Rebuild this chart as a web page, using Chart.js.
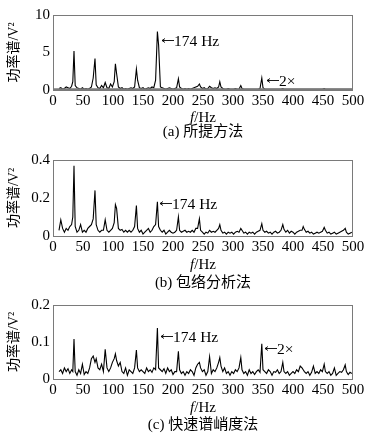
<!DOCTYPE html>
<html>
<head>
<meta charset="utf-8">
<script src="https://cdn.jsdelivr.net/npm/chart.js@4.4.0/dist/chart.umd.min.js"></script>
<style>
body { margin: 0; background: #fff; width: 369px; height: 439px; position: relative; overflow: hidden; }
canvas { position: absolute; left: 0; }
</style>
</head>
<body>
<canvas id="chartA" width="369" height="140" style="top:0px"></canvas>
<canvas id="chartB" width="369" height="150" style="top:140px"></canvas>
<canvas id="chartC" width="369" height="149" style="top:290px"></canvas>
<script>
// frequency axis (Hz), shared by all three spectra
var freqs = [
  10,13,16,19,22,25,28,31,33,35,
  37,40,43,46,49,52,55,58,61,64,
  67,70,72,75,78,81,84,87,90,93,
  96,99,102,104,106,109,112,115,118,121,
  124,127,130,133,136,139,141,144,147,150,
  153,156,159,162,165,168,171,174,176,179,
  182,185,188,191,194,197,200,203,206,209,
  211,214,217,220,223,226,229,232,235,238,
  241,244,246,249,252,255,258,261,264,267,
  270,273,276,278,280,283,286,289,292,295,
  298,301,304,307,310,313,315,318,321,324,
  327,330,333,336,339,342,345,348,350,353,
  356,359,362,365,368,371,374,377,380,383,
  385,388,391,394,397,400,403,406,409,412,
  415,417,419,422,425,428,431,434,437,440,
  443,446,449,452,454,457,460,463,466,469,
  472,475,478,481,484,487,489,492,495,498
];

// (a) proposed method
var powerA = [
  0.2,0.3,0.1,0.2,0.4,0.3,0.2,0.5,1.1,5.2,
  0.6,0.3,0.2,0.1,0.3,0.1,0.2,0.1,0.2,0.4,
  1.6,4.2,0.7,0.3,0.2,0.6,0.3,1.0,0.3,0.2,
  0.8,0.4,1.1,3.5,2.2,0.4,0.2,0.3,0.1,0.2,
  0.1,0.2,0.3,0.2,0.4,2.8,1.3,0.3,0.2,0.3,
  0.1,0.2,0.3,0.2,0.4,0.3,1.3,7.8,6.0,0.4,
  0.3,0.2,0.1,0.2,0.3,0.2,0.1,0.2,0.3,1.5,
  0.4,0.2,0.1,0.2,0.1,0.2,0.1,0.2,0.3,0.4,
  0.5,0.8,0.4,0.2,0.3,0.1,0.2,0.5,0.3,0.2,
  0.3,0.2,0.4,1.1,0.4,0.2,0.1,0.1,0.2,0.1,
  0.1,0.1,0.2,0.1,0.1,0.6,0.2,0.1,0.1,0.1,
  0.1,0.1,0.1,0.1,0.1,0.1,0.2,1.6,0.3,0.1,
  0.1,0.1,0.1,0.1,0.1,0.1,0.1,0.1,0.1,0.2,
  0.1,0.1,0.1,0.1,0.1,0.1,0.1,0.1,0.1,0.1,
  0.1,0.1,0.1,0.1,0.1,0.1,0.1,0.1,0.1,0.1,
  0.1,0.1,0.1,0.2,0.1,0.1,0.1,0.1,0.1,0.1,
  0.1,0.1,0.1,0.1,0.1,0.1,0.1,0.1,0.1,0.1
];

// (b) envelope analysis
var powerB = [
  0.03,0.085,0.04,0.02,0.04,0.03,0.05,0.06,0.1,0.37,
  0.05,0.02,0.03,0.06,0.02,0.03,0.02,0.04,0.05,0.06,
  0.09,0.24,0.06,0.03,0.02,0.03,0.03,0.085,0.03,0.02,
  0.03,0.04,0.07,0.165,0.145,0.04,0.03,0.035,0.02,0.03,
  0.02,0.03,0.02,0.03,0.05,0.16,0.04,0.02,0.03,0.01,
  0.02,0.03,0.04,0.02,0.03,0.05,0.06,0.18,0.05,0.03,
  0.02,0.03,0.01,0.02,0.03,0.02,0.015,0.02,0.03,0.1,
  0.03,0.02,0.025,0.03,0.02,0.025,0.02,0.03,0.02,0.04,
  0.04,0.09,0.03,0.02,0.01,0.02,0.015,0.03,0.02,0.025,
  0.02,0.03,0.04,0.06,0.03,0.015,0.02,0.01,0.02,0.015,
  0.02,0.01,0.02,0.025,0.02,0.04,0.03,0.015,0.02,0.01,
  0.02,0.015,0.02,0.01,0.02,0.025,0.03,0.065,0.03,0.02,
  0.025,0.015,0.02,0.01,0.02,0.025,0.015,0.02,0.03,0.06,
  0.035,0.02,0.03,0.015,0.025,0.02,0.01,0.02,0.025,0.03,
  0.03,0.05,0.035,0.02,0.025,0.015,0.02,0.01,0.015,0.02,
  0.015,0.02,0.025,0.045,0.03,0.015,0.02,0.01,0.015,0.02,
  0.01,0.015,0.02,0.025,0.03,0.04,0.02,0.01,0.015,0.02
];

// (c) fast kurtogram
var powerC = [
  0.02,0.025,0.015,0.03,0.02,0.028,0.015,0.025,0.02,0.108,
  0.02,0.01,0.025,0.015,0.04,0.012,0.02,0.015,0.03,0.055,
  0.062,0.045,0.055,0.03,0.025,0.04,0.02,0.08,0.03,0.02,
  0.03,0.045,0.055,0.068,0.05,0.035,0.045,0.02,0.015,0.03,
  0.01,0.025,0.02,0.015,0.03,0.078,0.03,0.02,0.025,0.02,
  0.015,0.03,0.02,0.025,0.018,0.03,0.025,0.138,0.03,0.025,
  0.02,0.028,0.015,0.03,0.02,0.025,0.012,0.02,0.02,0.075,
  0.025,0.015,0.02,0.01,0.02,0.015,0.025,0.02,0.01,0.03,
  0.04,0.045,0.03,0.02,0.025,0.01,0.02,0.06,0.015,0.025,
  0.02,0.03,0.045,0.058,0.035,0.02,0.03,0.015,0.02,0.01,
  0.02,0.015,0.025,0.02,0.03,0.058,0.025,0.015,0.02,0.01,
  0.025,0.015,0.02,0.012,0.02,0.025,0.018,0.095,0.025,0.02,
  0.015,0.025,0.02,0.01,0.02,0.018,0.025,0.015,0.02,0.045,
  0.02,0.015,0.02,0.01,0.015,0.02,0.015,0.025,0.02,0.035,
  0.03,0.025,0.02,0.015,0.02,0.01,0.018,0.035,0.015,0.02,
  0.015,0.025,0.02,0.04,0.02,0.015,0.02,0.01,0.015,0.03,
  0.01,0.015,0.02,0.018,0.025,0.038,0.02,0.012,0.018,0.015
];

var xTicks = [0, 50, 100, 150, 200, 250, 300, 350, 400, 450, 500];
var captions = ['(a) 所提方法', '(b) 包络分析法', '(c) 快速谱峭度法'];
var yMax = [10, 0.4, 0.2];
var yStep = [5, 0.2, 0.1];

var serif = '"Liberation Serif", "Noto Sans CJK SC"';

// frame, axis titles, caption and arrow notes
function panelPlugin(cfg) {
  return {
    id: 'panel',
    afterDatasetsDraw: function(chart) {
      var ctx = chart.ctx, a = chart.chartArea;
      var xs = chart.scales.x, ys = chart.scales.y;
      ctx.save();
      ctx.strokeStyle = '#7a7a7a';
      ctx.lineWidth = 1;
      ctx.strokeRect(a.left + 0.5, a.top + 0.5, a.right - a.left - 1, a.bottom - a.top);
      if (cfg.thickBase) {
        ctx.lineWidth = 2.5;
        ctx.beginPath();
        ctx.moveTo(a.left, a.bottom - 0.5);
        ctx.lineTo(a.right, a.bottom - 0.5);
        ctx.stroke();
      }
      ctx.fillStyle = '#000';
      ctx.strokeStyle = '#000';
      ctx.textBaseline = 'middle';
      ctx.font = '15.5px ' + serif;
      ctx.textAlign = 'left';
      cfg.notes.forEach(function(n) {
        var px = Math.round(xs.getPixelForValue(n.f)), py = Math.round(ys.getPixelForValue(n.v)) + 0.5;
        // arrow pointing left
        ctx.lineWidth = 0.9;
        ctx.beginPath();
        ctx.moveTo(px, py);
        ctx.lineTo(px + 12, py);
        ctx.moveTo(px + 3, py - 2);
        ctx.lineTo(px, py);
        ctx.lineTo(px + 3, py + 2);
        ctx.stroke();
        ctx.fillText(n.text, px + 12, py + 1);
      });
      // y title
      ctx.save();
      ctx.translate(14, (a.top + a.bottom) / 2);
      ctx.rotate(-Math.PI / 2);
      ctx.textAlign = 'center';
      ctx.font = '14px ' + serif;
      ctx.fillText('功率谱/V²', 0, 0);
      ctx.restore();
      // x title with italic f
      var cx = (a.left + a.right) / 2, ty = a.bottom + cfg.xTitleOff;
      ctx.font = 'italic 15px ' + serif;
      var w1 = ctx.measureText('f').width;
      ctx.font = '15px ' + serif;
      var w2 = ctx.measureText('/Hz').width;
      var x0 = cx - (w1 + w2) / 2;
      ctx.font = 'italic 15px ' + serif;
      ctx.fillText('f', x0, ty);
      ctx.font = '15px ' + serif;
      ctx.fillText('/Hz', x0 + w1, ty);
      // caption
      ctx.textAlign = 'center';
      ctx.font = '15px ' + serif;
      ctx.fillText(cfg.caption, cx, a.bottom + cfg.capOff);
      ctx.restore();
    }
  };
}

function makeChart(id, vals, idx, cfg) {
  var pts = freqs.map(function(f, i) { return { x: f, y: vals[i] }; });
  return new Chart(document.getElementById(id), {
    type: 'line',
    data: {
      datasets: [{
        data: pts,
        borderColor: '#000',
        borderWidth: 1.1,
        pointRadius: 0,
        tension: 0,
        fill: false
      }]
    },
    options: {
      responsive: false,
      animation: false,
      layout: { padding: { left: 0, right: 16, top: cfg.top, bottom: cfg.bottom } },
      plugins: { legend: { display: false }, tooltip: { enabled: false } },
      scales: {
        x: {
          type: 'linear', min: 0, max: 500,
          afterBuildTicks: function(s) { s.ticks = xTicks.map(function(v) { return { value: v }; }); },
          afterFit: function(s) { s.height = 20; },
          grid: { display: false, drawTicks: false },
          border: { display: false },
          ticks: { color: '#000', padding: 2, maxRotation: 0, autoSkip: false, font: { family: serif, size: 15 } }
        },
        y: {
          min: 0, max: yMax[idx],
          afterFit: function(s) { s.width = 53; },
          grid: { display: false, drawTicks: false },
          border: { display: false },
          ticks: { color: '#000', padding: 3, stepSize: yStep[idx], font: { family: serif, size: 15 } }
        }
      }
    },
    plugins: [panelPlugin({
      notes: cfg.notes, caption: captions[idx], thickBase: cfg.thickBase,
      xTitleOff: cfg.xTitleOff, capOff: cfg.capOff
    })]
  });
}

makeChart('chartA', powerA, 0, {
  top: 15, bottom: 30, xTitleOff: 28, capOff: 42, thickBase: true,
  notes: [{ f: 181, v: 6.7, text: '174 Hz' }, { f: 356, v: 1.33, text: '2×' }]
});
makeChart('chartB', powerB, 1, {
  top: 20, bottom: 34, xTitleOff: 29, capOff: 47, thickBase: false,
  notes: [{ f: 179, v: 0.172, text: '174 Hz' }]
});
makeChart('chartC', powerC, 2, {
  top: 15, bottom: 40, xTitleOff: 29, capOff: 46, thickBase: false,
  notes: [{ f: 180, v: 0.117, text: '174 Hz' }, { f: 354, v: 0.083, text: '2×' }]
});
</script>
</body>
</html>
